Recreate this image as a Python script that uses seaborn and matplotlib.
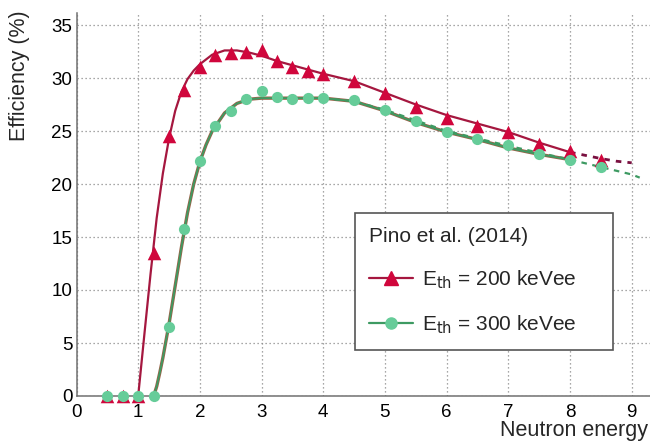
import matplotlib
matplotlib.use("Agg")
import matplotlib.pyplot as plt
import seaborn as sns
import pandas as pd
from matplotlib.lines import Line2D
from matplotlib.ticker import MultipleLocator, FixedLocator

# ---- data ----
energy = [0.5, 0.75, 1.0, 1.25, 1.5, 1.75, 2.0, 2.25, 2.5, 2.75, 3.0, 3.25,
          3.5, 3.75, 4.0, 4.5, 5.0, 5.5, 6.0, 6.5, 7.0, 7.5, 8.0, 8.5]
eff_200 = [0, 0, 0, 13.5, 24.5, 28.9, 31.0, 32.2, 32.4, 32.5, 32.6, 31.6,
           31.0, 30.7, 30.4, 29.7, 28.6, 27.3, 26.2, 25.5, 24.9, 23.8, 23.1, 22.3]
eff_300 = [0, 0, 0, 0, 6.5, 15.8, 22.2, 25.5, 26.9, 28.0, 28.8, 28.2,
           28.0, 28.1, 28.1, 27.9, 27.0, 25.9, 24.9, 24.2, 23.7, 22.8, 22.3, 21.6]

fit200_x = [1.0, 1.1, 1.2, 1.3, 1.4, 1.5, 1.6, 1.7, 1.8, 1.9, 2.0, 2.2, 2.4, 2.6,
            2.8, 3.0, 3.25, 3.5, 3.75, 4.0, 4.5, 5.0, 5.5, 6.0, 6.5, 7.0, 7.5, 8.0]
fit200_y = [0.0, 5.8, 11.5, 16.8, 21.0, 24.3, 26.9, 28.7, 29.9, 30.7, 31.3, 32.2, 32.6, 32.6,
            32.4, 32.1, 31.6, 31.2, 30.8, 30.4, 29.7, 28.6, 27.5, 26.5, 25.7, 24.9, 23.9, 23.0]
ext200_x = [8.0, 8.25, 8.5, 8.75, 9.0]
ext200_y = [23.0, 22.7, 22.4, 22.15, 22.0]

fit300_x = [1.25, 1.3, 1.35, 1.4, 1.5, 1.6, 1.7, 1.8, 1.9, 2.0, 2.1, 2.2, 2.4, 2.6,
            2.8, 3.0, 3.5, 4.0, 4.5, 5.0, 5.5, 6.0, 6.5, 7.0, 7.5, 8.0]
fit300_y = [0.0, 0.9, 2.2, 3.6, 6.8, 10.4, 14.0, 17.3, 20.0, 22.1, 23.7, 25.0, 26.7, 27.6,
            28.0, 28.1, 28.1, 28.1, 27.8, 26.9, 25.8, 24.9, 24.2, 23.4, 22.8, 22.3]
ext300_x = [4.0, 4.5, 5.0, 5.5, 6.0, 6.5, 7.0, 7.5, 8.0, 8.5, 9.0, 9.13]
ext300_y = [28.1, 27.8, 27.0, 26.0, 25.0, 24.3, 23.6, 22.95, 22.3, 21.6, 20.9, 20.6]

x_ticks = [0, 1, 2, 3, 4, 5, 6, 7, 8, 9]

legend_title = "Pino et al. (2014)"
label_200 = r"E$_{\mathrm{th}}$ = 200 keVee"
label_300 = r"E$_{\mathrm{th}}$ = 300 keVee"

# ---- style ----
sns.set_theme(style="white")
plt.rcParams["font.family"] = ["Liberation Sans", "DejaVu Sans"]
plt.rcParams["mathtext.default"] = "regular"

RED_M = "#d0063c"
RED_L = "#a5173f"
RED_D = "#7a1040"
GRN_M = "#66cc99"
GRN_L = "#3d9a62"
BROWN = "#9a6248"
AX_C = "#707070"

fig = plt.figure(figsize=(6.5, 4.42), dpi=100)
W, H = 650, 442
x0, x9 = 76.5, 631.7
ppu = (x9 - x0) / 9.0
xmax = 10.0
ax = fig.add_axes([x0 / W, (H - 396) / H, xmax * ppu / W, (396 - 13) / H])

df_pts = pd.DataFrame({"E": energy, "e200": eff_200, "e300": eff_300})

# fit curves
sns.lineplot(x=fit200_x, y=fit200_y, ax=ax, color=RED_L, lw=1.6, sort=False,
             estimator=None, zorder=3)
sns.lineplot(x=ext200_x, y=ext200_y, ax=ax, color=RED_D, lw=2.0, sort=False,
             estimator=None, zorder=3, linestyle=(0, (2, 2.2)))
sns.lineplot(x=fit300_x, y=fit300_y, ax=ax, color=BROWN, lw=2.4, sort=False,
             estimator=None, zorder=3)
sns.lineplot(x=fit300_x, y=fit300_y, ax=ax, color=GRN_L, lw=1.3, sort=False,
             estimator=None, zorder=3.1)
sns.lineplot(x=ext300_x, y=ext300_y, ax=ax, color=GRN_L, lw=1.6, sort=False,
             estimator=None, zorder=3.2, linestyle=(0, (2.5, 2.5)))

# data points
sns.scatterplot(data=df_pts, x="E", y="e200", ax=ax, marker="^", s=95,
                color=RED_M, edgecolor=RED_M, linewidth=0, zorder=4, clip_on=False)
sns.scatterplot(data=df_pts, x="E", y="e300", ax=ax, marker="o", s=65,
                color=GRN_M, edgecolor=GRN_M, linewidth=0, zorder=5, clip_on=False)

ax.set_xlim(0, xmax)
ax.set_ylim(0, (396 - 13) / 53.0 * 5)

ax.xaxis.set_major_locator(FixedLocator(x_ticks))
ax.xaxis.set_minor_locator(MultipleLocator(0.2))
ax.yaxis.set_major_locator(MultipleLocator(5))
ax.yaxis.set_minor_locator(MultipleLocator(1))

ax.grid(True, which="major", color="#8a8a8a", lw=0.9, linestyle=(0, (1, 2.2)))
ax.set_axisbelow(True)

for s in ["top", "right"]:
    ax.spines[s].set_visible(False)
for s in ["left", "bottom"]:
    ax.spines[s].set_color(AX_C)
    ax.spines[s].set_linewidth(1.1)

ax.tick_params(axis="x", which="major", direction="in", length=8, width=1.0,
               color=AX_C, labelsize=13.5, pad=6, labelcolor="black")
ax.tick_params(axis="x", which="minor", direction="in", length=4, width=1.0,
               color=AX_C)
ax.tick_params(axis="y", which="major", direction="in", length=12.5, width=1.0,
               color=AX_C, labelsize=13.5, pad=3, labelcolor="black")
ax.tick_params(axis="y", which="minor", direction="in", length=6.2, width=1.0,
               color=AX_C)

ax.set_xlabel("Neutron energy (MeV)", fontsize=15.5, ha="left", va="top")
ax.xaxis.set_label_coords((500 - x0) / (xmax * ppu), -0.063)
ax.set_ylabel("Efficiency (%)", fontsize=15.5, ha="right", va="center")
ax.yaxis.set_label_coords(-(x0 - 20) / (xmax * ppu), 1.008)

handles = [
    Line2D([], [], color=RED_L, lw=1.6, marker="^", markersize=10,
           markerfacecolor=RED_M, markeredgecolor=RED_M),
    Line2D([], [], color=GRN_L, lw=1.6, marker="o", markersize=8,
           markerfacecolor=GRN_M, markeredgecolor=GRN_M),
]
leg = ax.legend(handles, [label_200, label_300], title=legend_title,
                loc="upper left", mode="expand",
                bbox_to_anchor=(355 / W, 1 - 345 / H, 258 / W, 132 / H),
                bbox_transform=fig.transFigure, borderaxespad=0,
                fontsize=15, title_fontsize=15, alignment="left",
                frameon=True, fancybox=False, framealpha=1,
                edgecolor="#555555", borderpad=0.68, labelspacing=1.08,
                handlelength=2.1, handletextpad=0.45)
leg.get_frame().set_linewidth(1.2)
leg.set_zorder(10)

fig.savefig("out.png", dpi=100)
